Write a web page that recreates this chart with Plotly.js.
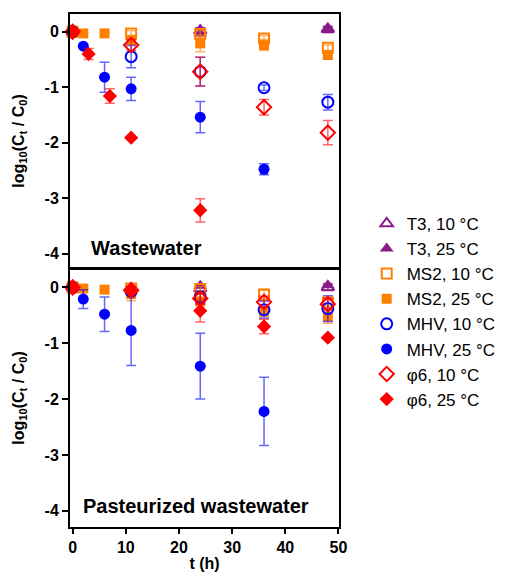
<!DOCTYPE html>
<html>
<head>
<meta charset="utf-8">
<script src="https://cdn.plot.ly/plotly-3.0.1.min.js"></script>
<style>html,body{margin:0;padding:0;background:#fff;}#chart{width:505px;height:582px;}</style>
</head>
<body>
<div id="chart"></div>
<script>
// ---- Data: Wastewater (top panel) ----
const ww_T3_10_t = [0, 24, 48];
const ww_T3_10_v = [0, 0.02, 0.05];
const ww_T3_10_e = [0, 0.05, 0.05];
const ww_T3_25_t = [0, 24, 48];
const ww_T3_25_v = [0, -0.03, 0.03];
const ww_T3_25_e = [0, 0.1, 0.05];
const ww_MS2_10_t = [0, 11, 24, 36, 48];
const ww_MS2_10_v = [0, -0.03, -0.04, -0.12, -0.29];
const ww_MS2_10_e = [0, 0.05, 0.06, 0.05, 0.05];
const ww_MS2_25_t = [0, 2, 6, 11, 24, 36, 48];
const ww_MS2_25_v = [0, -0.03, -0.03, -0.15, -0.21, -0.24, -0.42];
const ww_MS2_25_e = [0, 0, 0, 0.08, 0.15, 0.1, 0.05];
const ww_MHV_10_t = [0, 11, 24, 36, 48];
const ww_MHV_10_v = [0, -0.45, -0.72, -1.01, -1.27];
const ww_MHV_10_e = [0, 0.2, 0.26, 0.05, 0.14];
const ww_MHV_25_t = [0, 2, 6, 11, 24, 36];
const ww_MHV_25_v = [0, -0.26, -0.82, -1.03, -1.54, -2.48];
const ww_MHV_25_e = [0, 0, 0.27, 0.21, 0.28, 0.1];
const ww_PHI_10_t = [0, 11, 24, 36, 48];
const ww_PHI_10_v = [0, -0.24, -0.72, -1.36, -1.82];
const ww_PHI_10_e = [0, 0.1, 0.26, 0.14, 0.22];
const ww_PHI_25_t = [0, 3, 7, 11, 24];
const ww_PHI_25_v = [0, -0.4, -1.16, -1.91, -3.22];
const ww_PHI_25_e = [0, 0.1, 0.13, 0.03, 0.21];

// ---- Data: Pasteurized wastewater (bottom panel) ----
const pw_T3_10_t = [0, 24, 48];
const pw_T3_10_v = [0, -0.02, 0.0];
const pw_T3_10_e = [0, 0.05, 0.05];
const pw_T3_25_t = [0, 24, 48];
const pw_T3_25_v = [0, 0.03, 0.04];
const pw_T3_25_e = [0, 0.03, 0.03];
const pw_MS2_10_t = [0, 11, 24, 36, 48];
const pw_MS2_10_v = [0, -0.02, -0.03, -0.13, -0.27];
const pw_MS2_10_e = [0, 0.05, 0.05, 0.1, 0.05];
const pw_MS2_25_t = [0, 2, 6, 11, 24, 36, 48];
const pw_MS2_25_v = [0, -0.02, -0.04, -0.12, -0.25, -0.43, -0.52];
const pw_MS2_25_e = [0, 0, 0, 0.12, 0.15, 0.08, 0.12];
const pw_MHV_10_t = [0, 11, 24, 36, 48];
const pw_MHV_10_v = [0, -0.07, -0.18, -0.4, -0.38];
const pw_MHV_10_e = [0, 0.05, 0.1, 0.15, 0.23];
const pw_MHV_25_t = [0, 2, 6, 11, 24, 36];
const pw_MHV_25_v = [0, -0.21, -0.48, -0.77, -1.41, -2.22];
const pw_MHV_25_e = [0, 0.17, 0.31, 0.63, 0.59, 0.61];
const pw_PHI_10_t = [0, 11, 24, 36, 48];
const pw_PHI_10_v = [0, -0.05, -0.2, -0.26, -0.3];
const pw_PHI_10_e = [0, 0.05, 0.1, 0.1, 0.1];
const pw_PHI_25_t = [0, 11, 24, 36, 48];
const pw_PHI_25_v = [0, -0.05, -0.42, -0.7, -0.9];
const pw_PHI_25_e = [0, 0.05, 0.2, 0.13, 0.03];

const seriesNames = ["T3, 10 °C", "T3, 25 °C", "MS2, 10 °C", "MS2, 25 °C", "MHV, 10 °C", "MHV, 25 °C", "φ6, 10 °C", "φ6, 25 °C"];
const xTickVals = [0, 10, 20, 30, 40, 50];
const xTickText = ["0", "10", "20", "30", "40", "50"];
const yTickVals = [0, -1, -2, -3, -4];
const yTickText = ["0", "-1", "-2", "-3", "-4"];

const FONT = "Liberation Sans, Arial, Helvetica, sans-serif";
const PURPLE = "#8B1A8B", ORANGE = "#FF8000", BLUE = "#0000FF", RED = "#FF0000";
const styles = [
  {color: PURPLE, symbol: "triangle-up-open", err: "rgba(139,26,139,0.7)", size: 11},
  {color: PURPLE, symbol: "triangle-up", err: "rgba(139,26,139,0.7)", size: 12},
  {color: ORANGE, symbol: "square-open", err: "rgba(255,128,0,0.6)", size: 10},
  {color: ORANGE, symbol: "square", err: "rgba(255,128,0,0.6)", size: 10},
  {color: BLUE, symbol: "circle-open", err: "rgba(0,0,255,0.6)", size: 11},
  {color: BLUE, symbol: "circle", err: "rgba(0,0,255,0.6)", size: 11},
  {color: RED, symbol: "diamond-open", err: "rgba(255,0,0,0.6)", size: 11},
  {color: RED, symbol: "diamond", err: "rgba(255,0,0,0.6)", size: 11}
];

const panelTop = [
  [ww_T3_10_t, ww_T3_10_v, ww_T3_10_e], [ww_T3_25_t, ww_T3_25_v, ww_T3_25_e],
  [ww_MS2_10_t, ww_MS2_10_v, ww_MS2_10_e], [ww_MS2_25_t, ww_MS2_25_v, ww_MS2_25_e],
  [ww_MHV_10_t, ww_MHV_10_v, ww_MHV_10_e], [ww_MHV_25_t, ww_MHV_25_v, ww_MHV_25_e],
  [ww_PHI_10_t, ww_PHI_10_v, ww_PHI_10_e], [ww_PHI_25_t, ww_PHI_25_v, ww_PHI_25_e]
];
const panelBottom = [
  [pw_T3_10_t, pw_T3_10_v, pw_T3_10_e], [pw_T3_25_t, pw_T3_25_v, pw_T3_25_e],
  [pw_MS2_10_t, pw_MS2_10_v, pw_MS2_10_e], [pw_MS2_25_t, pw_MS2_25_v, pw_MS2_25_e],
  [pw_MHV_10_t, pw_MHV_10_v, pw_MHV_10_e], [pw_MHV_25_t, pw_MHV_25_v, pw_MHV_25_e],
  [pw_PHI_10_t, pw_PHI_10_v, pw_PHI_10_e], [pw_PHI_25_t, pw_PHI_25_v, pw_PHI_25_e]
];

function mk(d, i, xa, ya, showleg) {
  const s = styles[i];
  const open = s.symbol.indexOf("open") >= 0;
  return {
    type: "scatter", mode: "markers", x: d[0], y: d[1],
    xaxis: xa, yaxis: ya, name: seriesNames[i], showlegend: showleg,
    marker: {symbol: s.symbol, size: s.size, color: s.color, line: {width: open ? 2 : 0, color: s.color}},
    error_y: {type: "data", array: d[2], visible: true, color: s.err, thickness: 1.5, width: 5},
    cliponaxis: false
  };
}

const traces = [];
panelTop.forEach((d, i) => traces.push(mk(d, i, "x", "y", true)));
panelBottom.forEach((d, i) => traces.push(mk(d, i, "x2", "y2", false)));

const tickFont = {family: FONT, size: 16, color: "#000", weight: 700};
const titleFont = {family: FONT, size: 16, color: "#000", weight: 700};
const yTitle = "log<sub>10</sub>(C<sub>t</sub> / C<sub>0</sub>)";
const xr = [-0.5, 50.1];

const baseY = {
  tickvals: yTickVals, ticktext: yTickText, ticks: "outside", ticklen: 6, tickwidth: 2, tickcolor: "#000",
  showline: true, linewidth: 2, linecolor: "#000", mirror: true, showgrid: false, zeroline: false,
  tickfont: tickFont, title: {text: yTitle, font: titleFont, standoff: 16}
};

const layout = {
  width: 505, height: 582,
  margin: {l: 70, r: 166, t: 14, b: 55, autoexpand: false},
  paper_bgcolor: "#fff", plot_bgcolor: "#fff",
  font: {family: FONT, color: "#000"},
  showlegend: true,
  legend: {x: 1.103, xanchor: "left", y: 0.626, yanchor: "top", font: {family: FONT, size: 17, color: "#000"},
           bgcolor: "rgba(0,0,0,0)", borderwidth: 0, traceorder: "normal"},
  xaxis: {domain: [0, 1], anchor: "y", range: xr, showline: true, linewidth: 2, linecolor: "#000", mirror: true,
          ticks: "", showticklabels: false, showgrid: false, zeroline: false},
  yaxis: Object.assign({}, baseY, {domain: [0.505, 1], anchor: "x", range: [-4.26, 0.32]}),
  xaxis2: {domain: [0, 1], anchor: "y2", range: xr, showline: true, linewidth: 2, linecolor: "#000", mirror: true,
           tickvals: xTickVals, ticktext: xTickText, ticks: "outside", ticklen: 5, tickwidth: 2, tickcolor: "#000",
           showgrid: false, zeroline: false, tickfont: tickFont, title: {text: "t (h)", font: titleFont, standoff: 3}},
  yaxis2: Object.assign({}, baseY, {domain: [0, 0.503], anchor: "x2", range: [-4.29, 0.33]}),
  xaxis3: {overlaying: "x2", anchor: "y2", side: "top", range: xr, tickvals: xTickVals, ticks: "inside", ticklen: 6,
           tickwidth: 2, tickcolor: "#000", showticklabels: false, showgrid: false, zeroline: false, showline: false},
  yaxis3: {overlaying: "y2", anchor: "x2", side: "right", range: [-4.29, 0.33], tickvals: yTickVals, ticks: "inside",
           ticklen: 6, tickwidth: 2, tickcolor: "#000", showticklabels: false, showgrid: false, zeroline: false, showline: false},
  annotations: [
    {text: "Wastewater", xref: "paper", yref: "paper", x: 0.07, y: 0.544, xanchor: "left", yanchor: "middle",
     showarrow: false, font: {family: FONT, size: 20, color: "#000", weight: 700}},
    {text: "Pasteurized wastewater", xref: "paper", yref: "paper", x: 0.04, y: 0.04, xanchor: "left", yanchor: "middle",
     showarrow: false, font: {family: FONT, size: 20, color: "#000", weight: 700}}
  ]
};

Plotly.newPlot("chart", traces, layout, {displayModeBar: false, staticPlot: true});
</script>
</body>
</html>
